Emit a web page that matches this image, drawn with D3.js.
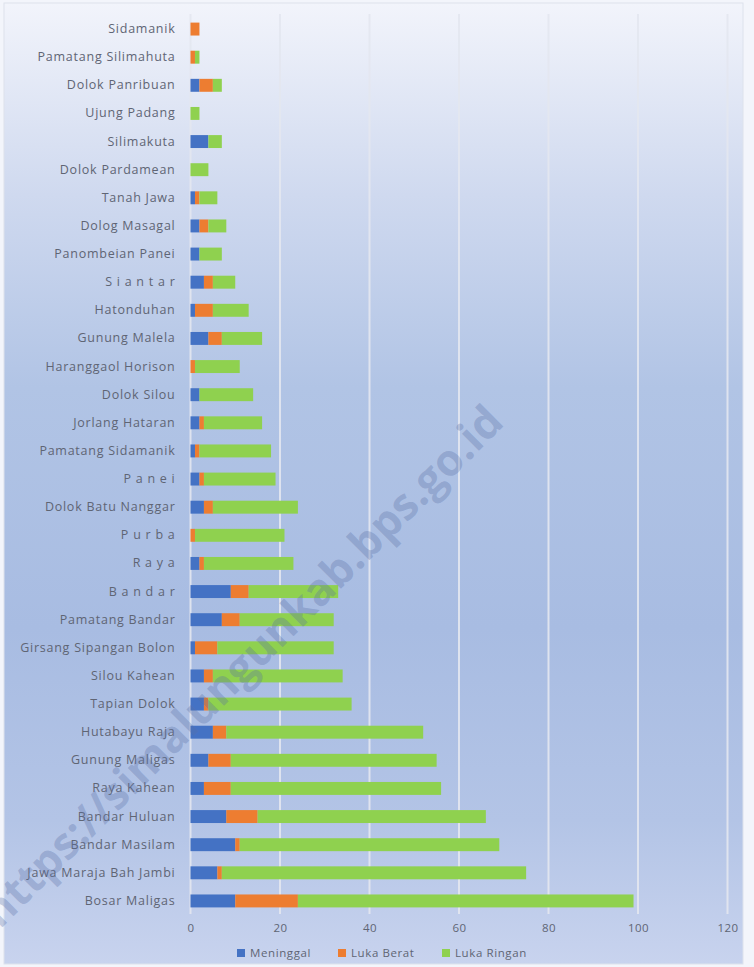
<!DOCTYPE html>
<html>
<head>
<meta charset="utf-8">
<script src="https://cdn.jsdelivr.net/npm/d3@7"></script>
<style>
  html, body { margin: 0; padding: 0; background: #f3f5fb; }
  svg { display: block; }
</style>
</head>
<body>
<svg id="chart" width="754" height="967"></svg>
<script>
const categories = [
  "Sidamanik", "Pamatang Silimahuta", "Dolok Panribuan", "Ujung Padang", "Silimakuta",
  "Dolok Pardamean", "Tanah Jawa", "Dolog Masagal", "Panombeian Panei", "S i a n t a r",
  "Hatonduhan", "Gunung Malela", "Haranggaol Horison", "Dolok Silou", "Jorlang Hataran",
  "Pamatang Sidamanik", "P a n e i", "Dolok Batu Nanggar", "P u r b a", "R a y a",
  "B a n d a r", "Pamatang Bandar", "Girsang Sipangan Bolon", "Silou Kahean", "Tapian Dolok",
  "Hutabayu Raja", "Gunung Maligas", "Raya Kahean", "Bandar Huluan", "Bandar Masilam",
  "Jawa Maraja Bah Jambi", "Bosar Maligas"
];
const meninggal = [0, 0, 2, 0, 4, 0, 1, 2, 2, 3, 1, 4, 0, 2, 2, 1, 2, 3, 0, 2, 9, 7, 1, 3, 3, 5, 4, 3, 8, 10, 6, 10];
const lukaBerat = [2, 1, 3, 0, 0, 0, 1, 2, 0, 2, 4, 3, 1, 0, 1, 1, 1, 2, 1, 1, 4, 4, 5, 2, 1, 3, 5, 6, 7, 1, 1, 14];
const lukaRingan = [0, 1, 2, 2, 3, 4, 4, 4, 5, 5, 8, 9, 10, 12, 13, 16, 16, 19, 20, 20, 20, 21, 26, 29, 32, 44, 46, 47, 51, 58, 68, 75];
const seriesNames = ["Meninggal", "Luka Berat", "Luka Ringan"];
const seriesColors = ["#4472c4", "#ed7d31", "#8fd14f"];
const xTicks = [0, 20, 40, 60, 80, 100, 120];
const watermarkText = "https://simalungunkab.bps.go.id";

const svg = d3.select("#chart");
const W = 754, H = 967;

// background gradient
const defs = svg.append("defs");
const grad = defs.append("linearGradient").attr("id", "bg").attr("x1", 0).attr("y1", 0).attr("x2", 0).attr("y2", 1);
[["0%", "#f2f4fb"], ["20%", "#cfd9ef"], ["40%", "#b1c4e5"], ["65%", "#a8bce2"], ["85%", "#b3c4e6"], ["100%", "#c8d3ee"]]
  .forEach(([o, c]) => grad.append("stop").attr("offset", o).attr("stop-color", c));

svg.append("rect").attr("x", 0).attr("y", 0).attr("width", W).attr("height", H).attr("fill", "#f3f5fb");
svg.append("rect").attr("x", 4).attr("y", 3).attr("width", 739).attr("height", 961)
  .attr("fill", "url(#bg)").attr("stroke", "#dde2ec").attr("stroke-width", 1);

const x = d3.scaleLinear().domain([0, 120]).range([190.5, 727.5]);
const y = d3.scaleBand().domain(categories).range([15, 915]).paddingInner(0.54).paddingOuter(0.27);

// gridlines
svg.append("g").selectAll("line").data(xTicks).join("line")
  .attr("x1", d => x(d)).attr("x2", d => x(d))
  .attr("y1", 14).attr("y2", 914)
  .attr("stroke", "#e3e7ef").attr("stroke-width", 2).attr("stroke-opacity", 0.9);

// stacked data
const rows = categories.map((c, i) => ({ cat: c, Meninggal: meninggal[i], "Luka Berat": lukaBerat[i], "Luka Ringan": lukaRingan[i] }));
const stack = d3.stack().keys(seriesNames)(rows);

svg.append("g").selectAll("g").data(stack).join("g")
  .attr("fill", (d, i) => seriesColors[i])
  .selectAll("rect").data(d => d).join("rect")
  .attr("x", d => x(d[0]))
  .attr("width", d => x(d[1]) - x(d[0]))
  .attr("y", d => y(d.data.cat))
  .attr("height", y.bandwidth());

// category labels
const yAxis = d3.axisLeft(y).tickSize(0).tickPadding(15);
const yg = svg.append("g").attr("transform", `translate(${x(0)},0)`).call(yAxis);
yg.select(".domain").remove();
yg.selectAll("text")
  .attr("font-family", "'Open Sans', sans-serif")
  .attr("font-size", 12.5)
  .attr("letter-spacing", 0.75)
  .attr("fill", "#5f6574")
  .style("white-space", "pre");

// x axis
const xAxis = d3.axisBottom(x).tickValues(xTicks).tickSize(0).tickPadding(9);
const xg = svg.append("g").attr("transform", `translate(0,915)`).call(xAxis);
xg.select(".domain").remove();
xg.selectAll("text").attr("font-family", "'Open Sans', sans-serif").attr("font-size", 11.5)
  .attr("letter-spacing", 0.5).attr("fill", "#5f6574");

// legend
const legendX = [237, 338, 442];
const lg = svg.append("g");
seriesNames.forEach((n, i) => {
  lg.append("rect").attr("x", legendX[i]).attr("y", 949).attr("width", 8).attr("height", 8).attr("fill", seriesColors[i]);
  lg.append("text").attr("x", legendX[i] + 13).attr("y", 953).attr("dy", "0.35em")
    .attr("font-family", "'Open Sans', sans-serif").attr("font-size", 11.5).attr("letter-spacing", 0.6)
    .attr("fill", "#5f6574").text(n);
});

// watermark
svg.append("text")
  .attr("transform", "translate(242,666) rotate(-45)")
  .attr("text-anchor", "middle").attr("dy", "0.35em")
  .attr("font-family", "'Open Sans', sans-serif").attr("font-weight", "bold").attr("font-size", 44)
  .attr("fill", "#5a70a6").attr("fill-opacity", 0.32)
  .text(watermarkText);
</script>
</body>
</html>
